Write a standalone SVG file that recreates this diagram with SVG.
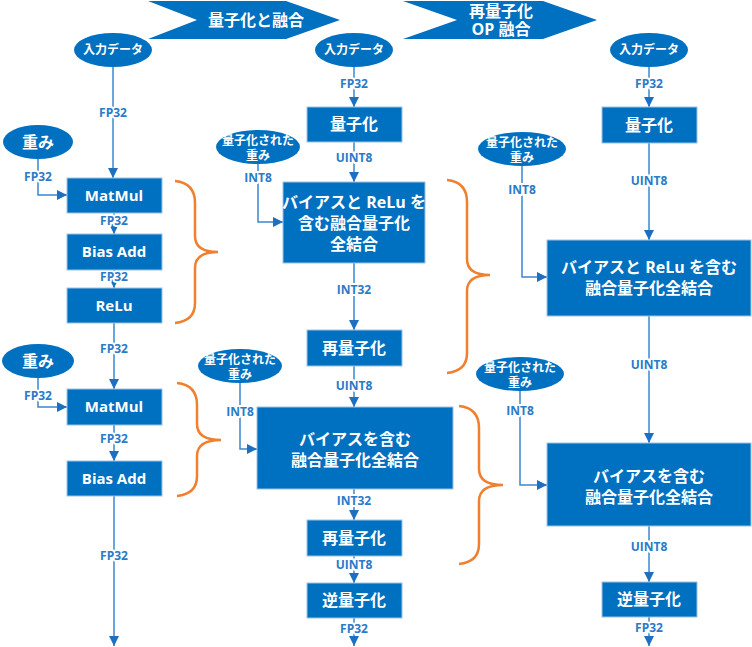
<svg xmlns="http://www.w3.org/2000/svg" width="752" height="647" viewBox="0 0 752 647">
<style>
.box{fill:#0070C0;stroke:#9DC3E6;stroke-width:1}
.ell{fill:#0070C0}
.bt{fill:#fff;font-family:"Open Sans","Noto Sans CJK JP",sans-serif;font-weight:bold;font-size:16px;text-anchor:middle}
.et{fill:#fff;font-family:"Noto Sans CJK JP",sans-serif;font-weight:bold;font-size:12px;text-anchor:middle}
.lb{fill:#2A7BC8;font-family:"Open Sans","Noto Sans CJK JP",sans-serif;font-weight:bold;font-size:12px;text-anchor:middle;stroke:#fff;stroke-width:4;paint-order:stroke;stroke-linejoin:round}
.ln{fill:none;stroke:#3A87D0;stroke-width:1.5;marker-end:url(#ah)}
.br{fill:none;stroke:#F07F2E;stroke-width:2.5}
</style>
<defs>
<marker id="ah" viewBox="0 0 10 10" refX="10" refY="5" markerWidth="10" markerHeight="10" markerUnits="userSpaceOnUse" orient="auto">
<path d="M0,0 L10,5 L0,10 z" fill="#1F6FC0"/>
</marker>
</defs>

<g id="banner1">
<polygon points="148,1 286,1 340,20 286,39 148,39 197,20" fill="#0070C0"/>
<text class="bt" x="256" y="26">量子化と融合</text>
</g>
<g id="banner2">
<polygon points="403,1 543,1 597,20 543,39 403,39 457,20" fill="#0070C0"/>
<text class="bt" x="501" y="17"><tspan x="501" y="17">再量子化</tspan><tspan x="501" y="35">OP 融合</tspan></text>
</g>

<g id="connectors">
<path class="ln" d="M113,67 V178"/>
<path class="ln" d="M38,159 V195 H67"/>
<path class="ln" d="M114,213 V234"/>
<path class="ln" d="M114,270 V288"/>
<path class="ln" d="M114,323 V389"/>
<path class="ln" d="M38,378 V407 H67"/>
<path class="ln" d="M114,425 V461"/>
<path class="ln" d="M114,496 V646"/>

<path class="ln" d="M354,67 V107"/>
<path class="ln" d="M354,142 V182"/>
<path class="ln" d="M258,164 V222 H283"/>
<path class="ln" d="M354,263 V330"/>
<path class="ln" d="M354,366 V407"/>
<path class="ln" d="M240,383 V449 H257"/>
<path class="ln" d="M354,489 V520"/>
<path class="ln" d="M354,556 V583"/>
<path class="ln" d="M354,618 V646"/>

<path class="ln" d="M649,67 V107"/>
<path class="ln" d="M649,143 V240"/>
<path class="ln" d="M522,166 V277 H547"/>
<path class="ln" d="M649,316 V443"/>
<path class="ln" d="M520,391 V485 H547"/>
<path class="ln" d="M649,526 V582"/>
<path class="ln" d="M649,617 V646"/>

<text class="lb" x="113" y="117">FP32</text>
<text class="lb" x="38" y="181">FP32</text>
<text class="lb" x="114" y="225">FP32</text>
<text class="lb" x="114" y="281">FP32</text>
<text class="lb" x="114" y="353">FP32</text>
<text class="lb" x="38" y="400">FP32</text>
<text class="lb" x="114" y="443">FP32</text>
<text class="lb" x="114" y="560">FP32</text>

<text class="lb" x="354" y="88">FP32</text>
<text class="lb" x="354" y="162">UINT8</text>
<text class="lb" x="258" y="182">INT8</text>
<text class="lb" x="354" y="294">INT32</text>
<text class="lb" x="354" y="390">UINT8</text>
<text class="lb" x="240" y="416">INT8</text>
<text class="lb" x="354" y="505">INT32</text>
<text class="lb" x="354" y="569">UINT8</text>
<text class="lb" x="354" y="633">FP32</text>

<text class="lb" x="649" y="88">FP32</text>
<text class="lb" x="649" y="185">UINT8</text>
<text class="lb" x="522" y="194">INT8</text>
<text class="lb" x="649" y="369">UINT8</text>
<text class="lb" x="520" y="415">INT8</text>
<text class="lb" x="649" y="551">UINT8</text>
<text class="lb" x="649" y="632">FP32</text>
</g>

<g id="braces">
<path class="br" d="M175,181 Q195,183 195,203 L195,236 Q195,252 218,252 Q195,252 195,268 L195,303 Q195,321 175,323"/>
<path class="br" d="M177,383 Q197,385 197,405 L197,424 Q197,440 221,440 Q197,440 197,456 L197,476 Q197,494 177,496"/>
<path class="br" d="M447,180 Q467,182 467,202 L467,259 Q467,275 490,275 Q467,275 467,291 L467,353 Q467,371 447,373"/>
<path class="br" d="M459,406 Q479,408 479,428 L479,469 Q479,485 503,485 Q479,485 479,501 L479,544 Q479,562 459,564"/>
</g>

<g id="in1"><ellipse class="ell" cx="113" cy="50" rx="39" ry="17"/><text class="et" x="113" y="54">入力データ</text></g>
<g id="in2"><ellipse class="ell" cx="354" cy="50" rx="39" ry="17"/><text class="et" x="354" y="54">入力データ</text></g>
<g id="in3"><ellipse class="ell" cx="649" cy="50" rx="39" ry="17"/><text class="et" x="649" y="54">入力データ</text></g>

<g id="w1"><ellipse class="ell" cx="38" cy="142" rx="35" ry="17"/><text class="bt" x="38" y="148">重み</text></g>
<g id="w2"><ellipse class="ell" cx="38" cy="361" rx="36" ry="17"/><text class="bt" x="38" y="367">重み</text></g>

<g id="qw1"><ellipse class="ell" cx="258" cy="147" rx="42" ry="17"/><text class="et"><tspan x="258" y="145">量子化された</tspan><tspan x="258" y="160">重み</tspan></text></g>
<g id="qw2"><ellipse class="ell" cx="240" cy="366" rx="42" ry="17"/><text class="et"><tspan x="240" y="364">量子化された</tspan><tspan x="240" y="379">重み</tspan></text></g>
<g id="qw3"><ellipse class="ell" cx="522" cy="149" rx="44" ry="17"/><text class="et"><tspan x="522" y="147">量子化された</tspan><tspan x="522" y="162">重み</tspan></text></g>
<g id="qw4"><ellipse class="ell" cx="520" cy="374" rx="44" ry="17"/><text class="et"><tspan x="520" y="372">量子化された</tspan><tspan x="520" y="387">重み</tspan></text></g>

<g id="matmul1"><rect class="box" x="67" y="178" width="95" height="35"/><text class="bt" x="114" y="201" style="font-size:15px">MatMul</text></g>
<g id="biasadd1"><rect class="box" x="67" y="234" width="95" height="36"/><text class="bt" x="114" y="257" style="font-size:15px">Bias Add</text></g>
<g id="relu1"><rect class="box" x="67" y="288" width="95" height="35"/><text class="bt" x="114" y="311" style="font-size:15px">ReLu</text></g>
<g id="matmul2"><rect class="box" x="67" y="389" width="95" height="36"/><text class="bt" x="114" y="412" style="font-size:15px">MatMul</text></g>
<g id="biasadd2"><rect class="box" x="67" y="461" width="95" height="35"/><text class="bt" x="114" y="484" style="font-size:15px">Bias Add</text></g>

<g id="quant2"><rect class="box" x="307" y="107" width="95" height="35"/><text class="bt" x="354" y="130">量子化</text></g>
<g id="fused2a"><rect class="box" x="283" y="182" width="142" height="81"/><text class="bt"><tspan x="354" y="208">バイアスと ReLu を</tspan><tspan x="354" y="229">含む融合量子化</tspan><tspan x="354" y="250">全結合</tspan></text></g>
<g id="requant2a"><rect class="box" x="307" y="330" width="95" height="36"/><text class="bt" x="354" y="354">再量子化</text></g>
<g id="fused2b"><rect class="box" x="257" y="407" width="196" height="82"/><text class="bt"><tspan x="355" y="445">バイアスを含む</tspan><tspan x="355" y="466">融合量子化全結合</tspan></text></g>
<g id="requant2b"><rect class="box" x="307" y="520" width="95" height="36"/><text class="bt" x="354" y="544">再量子化</text></g>
<g id="dequant2"><rect class="box" x="307" y="583" width="95" height="35"/><text class="bt" x="354" y="606">逆量子化</text></g>

<g id="quant3"><rect class="box" x="602" y="107" width="95" height="36"/><text class="bt" x="649" y="131">量子化</text></g>
<g id="fused3a"><rect class="box" x="547" y="240" width="204" height="76"/><text class="bt"><tspan x="649" y="273">バイアスと ReLu を含む</tspan><tspan x="649" y="294">融合量子化全結合</tspan></text></g>
<g id="fused3b"><rect class="box" x="547" y="443" width="204" height="83"/><text class="bt"><tspan x="649" y="482">バイアスを含む</tspan><tspan x="649" y="503">融合量子化全結合</tspan></text></g>
<g id="dequant3"><rect class="box" x="602" y="582" width="95" height="35"/><text class="bt" x="649" y="605">逆量子化</text></g>
</svg>
